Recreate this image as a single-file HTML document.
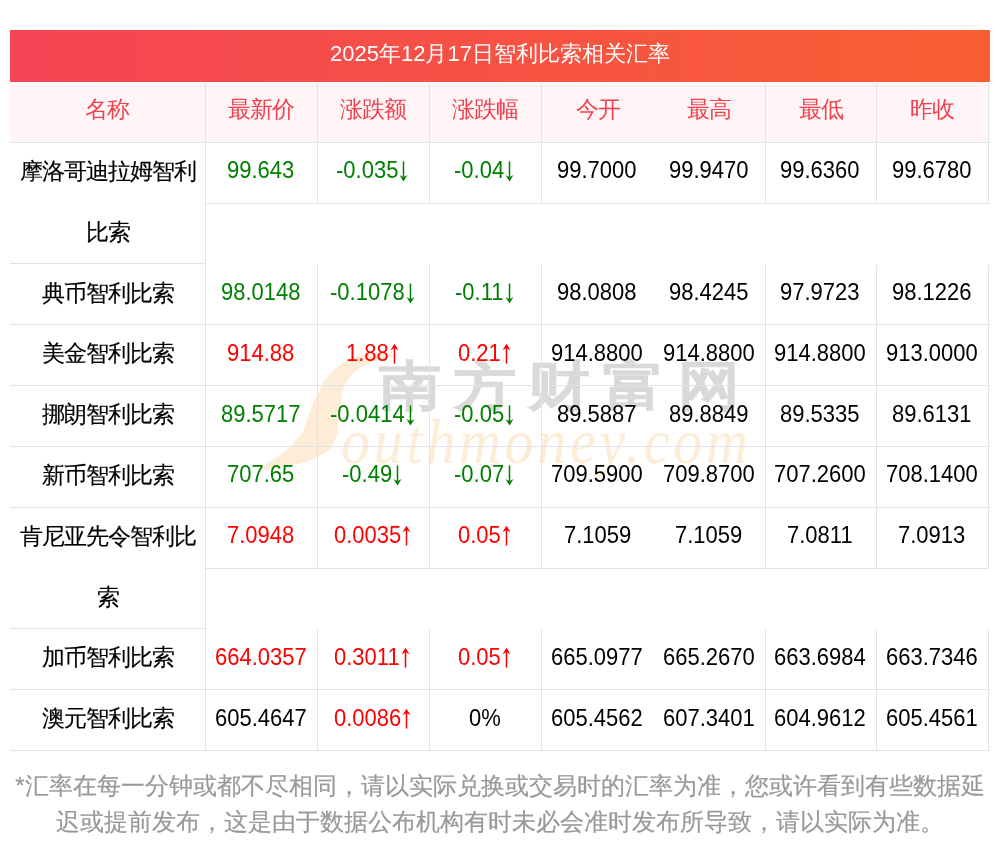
<!DOCTYPE html>
<html><head><meta charset="utf-8">
<style>
html,body{margin:0;padding:0;background:#fff;}
body{width:1000px;height:853px;position:relative;overflow:hidden;font-family:"Liberation Sans",sans-serif;}
.wm{position:absolute;left:0;top:0;width:1000px;height:853px;z-index:0;}
.wmcn{position:absolute;left:379px;top:354px;font-size:53px;line-height:64px;font-weight:bold;color:#d9d9d9;-webkit-text-stroke:0.6px #d9d9d9;letter-spacing:10.8px;white-space:nowrap;transform:scaleX(1.17);transform-origin:0 0;}
.wmen{position:absolute;left:341px;top:404px;font-family:"Liberation Serif",serif;font-style:italic;font-size:58px;line-height:70px;letter-spacing:3.7px;color:#fdecd6;white-space:nowrap;transform:scaleY(1.1);transform-origin:0 0;}
.title{position:absolute;left:10px;top:30px;width:980px;height:52px;background:linear-gradient(to right,#f44455,#f95f33);color:#fff;font-size:22px;line-height:47px;text-align:center;box-sizing:border-box;z-index:1;}
.c{position:absolute;z-index:1;box-sizing:border-box;border-right:1px solid #dfe3ec;border-bottom:1px solid #dfe3ec;text-align:center;font-size:22px;color:#000;display:flex;align-items:center;justify-content:center;white-space:nowrap;}
.c span{position:relative;top:-2.5px;left:-0.8px;display:inline-block;transform:scaleY(1.08);}
.c.nb{border-right:0;}
.c.hd{background:#fff5f7;color:#f0434f;}
.c.hd span{top:-3px;left:-1px;transform:none;font-size:23px;letter-spacing:-1px;text-indent:1px;}
.c.nm{display:block;}
.c.nm p{margin:0;font-size:23px;letter-spacing:-1px;-webkit-text-stroke:0.15px #000;height:60.8px;line-height:60.8px;position:relative;top:-2px;}
.ar{vertical-align:-4px;}
.ar.up{vertical-align:-2.5px;}
.g{color:#008000;}
.r{color:#ff0000;}
.k{color:#000;}
.foot{position:absolute;left:10px;top:768px;width:980px;font-size:24px;line-height:36px;color:#999;text-align:center;-webkit-text-stroke:0.2px #999;}
.c span,.c.nm p,.t,.wmcn,.wmen{will-change:transform;}
.t{display:inline-block;}
</style></head><body>
<div class="wm">
<svg width="1000" height="853" viewBox="0 0 1000 853" style="position:absolute;left:0;top:0"><path d="M258.0 469.5 C257.7 468.9 261.8 467.5 264.0 466.0 C266.2 464.5 268.2 462.7 271.2 460.6 C274.2 458.5 278.7 455.8 282.0 453.4 C285.3 451.0 288.3 448.9 291.0 446.2 C293.7 443.5 296.1 439.9 298.2 437.2 C300.3 434.5 301.9 433.6 303.6 430.0 C305.3 426.4 306.9 419.9 308.5 415.4 C310.1 410.9 311.4 406.4 313.0 403.0 C314.6 399.6 316.3 398.3 318.0 395.0 C319.7 391.7 321.0 386.5 323.0 383.0 C325.0 379.5 327.2 377.0 330.0 374.0 C332.8 371.0 336.7 367.5 340.0 365.0 C343.3 362.5 346.7 360.5 350.0 359.0 C353.3 357.5 356.7 356.8 360.0 356.0 C363.3 355.2 366.7 354.8 370.0 354.5 C373.3 354.2 376.7 353.9 380.0 354.0 C383.3 354.1 387.8 354.6 390.0 355.0 C392.2 355.4 393.8 356.0 393.0 356.5 C392.2 357.0 388.0 357.2 385.0 358.0 C382.0 358.8 378.3 359.8 375.0 361.0 C371.7 362.2 368.0 363.5 365.0 365.0 C362.0 366.5 359.5 368.0 357.0 370.0 C354.5 372.0 352.0 374.5 350.0 377.0 C348.0 379.5 346.3 382.0 345.0 385.0 C343.7 388.0 342.8 391.7 342.0 395.0 C341.2 398.3 340.9 401.7 340.5 405.0 C340.1 408.3 339.9 411.9 339.6 415.0 C339.3 418.1 338.8 421.0 338.5 423.5 C338.2 426.0 338.2 427.7 337.8 430.0 C337.4 432.3 337.2 434.2 336.0 437.2 C334.8 440.2 333.6 444.7 330.6 448.0 C327.6 451.3 323.1 454.4 318.0 457.0 C312.9 459.6 306.0 461.7 300.0 463.3 C294.0 464.9 287.7 465.9 282.0 466.9 C276.3 467.9 270.0 469.0 266.0 469.4 C262.0 469.8 258.3 470.1 258.0 469.5Z" fill="#fdecd6"/></svg>
<div class="wmcn">南方财富网</div>
<div class="wmen">outhmoney.com</div>
</div>
<div class="title"><span class="t">2025年12月17日智利比索相关汇率</span></div>
<div class="c hd" style="left:10px;top:83.00px;width:196px;height:60.00px;"><span>名称</span></div><div class="c hd" style="left:206px;top:83.00px;width:112px;height:60.00px;"><span>最新价</span></div><div class="c hd" style="left:318px;top:83.00px;width:112px;height:60.00px;"><span>涨跌额</span></div><div class="c hd" style="left:430px;top:83.00px;width:112px;height:60.00px;"><span>涨跌幅</span></div><div class="c nb hd" style="left:542px;top:83.00px;width:112px;height:60.00px;"><span>今开</span></div><div class="c hd" style="left:654px;top:83.00px;width:112px;height:60.00px;"><span>最高</span></div><div class="c hd" style="left:766px;top:83.00px;width:111px;height:60.00px;"><span>最低</span></div><div class="c hd" style="left:877px;top:83.00px;width:112px;height:60.00px;"><span>昨收</span></div><div class="c nm" style="left:10px;top:143.00px;width:196px;height:120.90px;"><p>摩洛哥迪拉姆智利</p><p>比索</p></div><div class="c g" style="left:206px;top:143.00px;width:112px;height:60.80px;"><span>99.643</span></div><div class="c g" style="left:318px;top:143.00px;width:112px;height:60.80px;"><span>-0.035<svg class="ar" width="11" height="19" viewBox="0 0 11 19"><path d="M4.75 0h1.5v14.5h-1.5z M1.5 12.6 L5.5 18.6 L9.5 12.6 L5.5 14.6 Z" fill="currentColor"/></svg></span></div><div class="c g" style="left:430px;top:143.00px;width:112px;height:60.80px;"><span>-0.04<svg class="ar" width="11" height="19" viewBox="0 0 11 19"><path d="M4.75 0h1.5v14.5h-1.5z M1.5 12.6 L5.5 18.6 L9.5 12.6 L5.5 14.6 Z" fill="currentColor"/></svg></span></div><div class="c nb k" style="left:542px;top:143.00px;width:112px;height:60.80px;"><span>99.7000</span></div><div class="c k" style="left:654px;top:143.00px;width:112px;height:60.80px;"><span>99.9470</span></div><div class="c k" style="left:766px;top:143.00px;width:111px;height:60.80px;"><span>99.6360</span></div><div class="c k" style="left:877px;top:143.00px;width:112px;height:60.80px;"><span>99.6780</span></div><div class="c nm" style="left:10px;top:264.60px;width:196px;height:60.80px;"><p>典币智利比索</p></div><div class="c g" style="left:206px;top:264.60px;width:112px;height:60.80px;"><span>98.0148</span></div><div class="c g" style="left:318px;top:264.60px;width:112px;height:60.80px;"><span>-0.1078<svg class="ar" width="11" height="19" viewBox="0 0 11 19"><path d="M4.75 0h1.5v14.5h-1.5z M1.5 12.6 L5.5 18.6 L9.5 12.6 L5.5 14.6 Z" fill="currentColor"/></svg></span></div><div class="c g" style="left:430px;top:264.60px;width:112px;height:60.80px;"><span>-0.11<svg class="ar" width="11" height="19" viewBox="0 0 11 19"><path d="M4.75 0h1.5v14.5h-1.5z M1.5 12.6 L5.5 18.6 L9.5 12.6 L5.5 14.6 Z" fill="currentColor"/></svg></span></div><div class="c nb k" style="left:542px;top:264.60px;width:112px;height:60.80px;"><span>98.0808</span></div><div class="c k" style="left:654px;top:264.60px;width:112px;height:60.80px;"><span>98.4245</span></div><div class="c k" style="left:766px;top:264.60px;width:111px;height:60.80px;"><span>97.9723</span></div><div class="c k" style="left:877px;top:264.60px;width:112px;height:60.80px;"><span>98.1226</span></div><div class="c nm" style="left:10px;top:325.40px;width:196px;height:60.80px;"><p>美金智利比索</p></div><div class="c r" style="left:206px;top:325.40px;width:112px;height:60.80px;"><span>914.88</span></div><div class="c r" style="left:318px;top:325.40px;width:112px;height:60.80px;"><span>1.88<svg class="ar up" width="11" height="19" viewBox="0 0 11 19"><path d="M4.75 4.1h1.5v14.9h-1.5z M1.5 6.4 L5.5 0.4 L9.5 6.4 L5.5 4.4 Z" fill="currentColor"/></svg></span></div><div class="c r" style="left:430px;top:325.40px;width:112px;height:60.80px;"><span>0.21<svg class="ar up" width="11" height="19" viewBox="0 0 11 19"><path d="M4.75 4.1h1.5v14.9h-1.5z M1.5 6.4 L5.5 0.4 L9.5 6.4 L5.5 4.4 Z" fill="currentColor"/></svg></span></div><div class="c nb k" style="left:542px;top:325.40px;width:112px;height:60.80px;"><span>914.8800</span></div><div class="c k" style="left:654px;top:325.40px;width:112px;height:60.80px;"><span>914.8800</span></div><div class="c k" style="left:766px;top:325.40px;width:111px;height:60.80px;"><span>914.8800</span></div><div class="c k" style="left:877px;top:325.40px;width:112px;height:60.80px;"><span>913.0000</span></div><div class="c nm" style="left:10px;top:386.20px;width:196px;height:60.80px;"><p>挪朗智利比索</p></div><div class="c g" style="left:206px;top:386.20px;width:112px;height:60.80px;"><span>89.5717</span></div><div class="c g" style="left:318px;top:386.20px;width:112px;height:60.80px;"><span>-0.0414<svg class="ar" width="11" height="19" viewBox="0 0 11 19"><path d="M4.75 0h1.5v14.5h-1.5z M1.5 12.6 L5.5 18.6 L9.5 12.6 L5.5 14.6 Z" fill="currentColor"/></svg></span></div><div class="c g" style="left:430px;top:386.20px;width:112px;height:60.80px;"><span>-0.05<svg class="ar" width="11" height="19" viewBox="0 0 11 19"><path d="M4.75 0h1.5v14.5h-1.5z M1.5 12.6 L5.5 18.6 L9.5 12.6 L5.5 14.6 Z" fill="currentColor"/></svg></span></div><div class="c nb k" style="left:542px;top:386.20px;width:112px;height:60.80px;"><span>89.5887</span></div><div class="c k" style="left:654px;top:386.20px;width:112px;height:60.80px;"><span>89.8849</span></div><div class="c k" style="left:766px;top:386.20px;width:111px;height:60.80px;"><span>89.5335</span></div><div class="c k" style="left:877px;top:386.20px;width:112px;height:60.80px;"><span>89.6131</span></div><div class="c nm" style="left:10px;top:447.00px;width:196px;height:60.80px;"><p>新币智利比索</p></div><div class="c g" style="left:206px;top:447.00px;width:112px;height:60.80px;"><span>707.65</span></div><div class="c g" style="left:318px;top:447.00px;width:112px;height:60.80px;"><span>-0.49<svg class="ar" width="11" height="19" viewBox="0 0 11 19"><path d="M4.75 0h1.5v14.5h-1.5z M1.5 12.6 L5.5 18.6 L9.5 12.6 L5.5 14.6 Z" fill="currentColor"/></svg></span></div><div class="c g" style="left:430px;top:447.00px;width:112px;height:60.80px;"><span>-0.07<svg class="ar" width="11" height="19" viewBox="0 0 11 19"><path d="M4.75 0h1.5v14.5h-1.5z M1.5 12.6 L5.5 18.6 L9.5 12.6 L5.5 14.6 Z" fill="currentColor"/></svg></span></div><div class="c nb k" style="left:542px;top:447.00px;width:112px;height:60.80px;"><span>709.5900</span></div><div class="c k" style="left:654px;top:447.00px;width:112px;height:60.80px;"><span>709.8700</span></div><div class="c k" style="left:766px;top:447.00px;width:111px;height:60.80px;"><span>707.2600</span></div><div class="c k" style="left:877px;top:447.00px;width:112px;height:60.80px;"><span>708.1400</span></div><div class="c nm" style="left:10px;top:507.80px;width:196px;height:121.60px;"><p>肯尼亚先令智利比</p><p>索</p></div><div class="c r" style="left:206px;top:507.80px;width:112px;height:60.80px;"><span>7.0948</span></div><div class="c r" style="left:318px;top:507.80px;width:112px;height:60.80px;"><span>0.0035<svg class="ar up" width="11" height="19" viewBox="0 0 11 19"><path d="M4.75 4.1h1.5v14.9h-1.5z M1.5 6.4 L5.5 0.4 L9.5 6.4 L5.5 4.4 Z" fill="currentColor"/></svg></span></div><div class="c r" style="left:430px;top:507.80px;width:112px;height:60.80px;"><span>0.05<svg class="ar up" width="11" height="19" viewBox="0 0 11 19"><path d="M4.75 4.1h1.5v14.9h-1.5z M1.5 6.4 L5.5 0.4 L9.5 6.4 L5.5 4.4 Z" fill="currentColor"/></svg></span></div><div class="c nb k" style="left:542px;top:507.80px;width:112px;height:60.80px;"><span>7.1059</span></div><div class="c k" style="left:654px;top:507.80px;width:112px;height:60.80px;"><span>7.1059</span></div><div class="c k" style="left:766px;top:507.80px;width:111px;height:60.80px;"><span>7.0811</span></div><div class="c k" style="left:877px;top:507.80px;width:112px;height:60.80px;"><span>7.0913</span></div><div class="c nm" style="left:10px;top:629.40px;width:196px;height:60.80px;"><p>加币智利比索</p></div><div class="c r" style="left:206px;top:629.40px;width:112px;height:60.80px;"><span>664.0357</span></div><div class="c r" style="left:318px;top:629.40px;width:112px;height:60.80px;"><span>0.3011<svg class="ar up" width="11" height="19" viewBox="0 0 11 19"><path d="M4.75 4.1h1.5v14.9h-1.5z M1.5 6.4 L5.5 0.4 L9.5 6.4 L5.5 4.4 Z" fill="currentColor"/></svg></span></div><div class="c r" style="left:430px;top:629.40px;width:112px;height:60.80px;"><span>0.05<svg class="ar up" width="11" height="19" viewBox="0 0 11 19"><path d="M4.75 4.1h1.5v14.9h-1.5z M1.5 6.4 L5.5 0.4 L9.5 6.4 L5.5 4.4 Z" fill="currentColor"/></svg></span></div><div class="c nb k" style="left:542px;top:629.40px;width:112px;height:60.80px;"><span>665.0977</span></div><div class="c k" style="left:654px;top:629.40px;width:112px;height:60.80px;"><span>665.2670</span></div><div class="c k" style="left:766px;top:629.40px;width:111px;height:60.80px;"><span>663.6984</span></div><div class="c k" style="left:877px;top:629.40px;width:112px;height:60.80px;"><span>663.7346</span></div><div class="c nm" style="left:10px;top:690.20px;width:196px;height:60.80px;"><p>澳元智利比索</p></div><div class="c k" style="left:206px;top:690.20px;width:112px;height:60.80px;"><span>605.4647</span></div><div class="c r" style="left:318px;top:690.20px;width:112px;height:60.80px;"><span>0.0086<svg class="ar up" width="11" height="19" viewBox="0 0 11 19"><path d="M4.75 4.1h1.5v14.9h-1.5z M1.5 6.4 L5.5 0.4 L9.5 6.4 L5.5 4.4 Z" fill="currentColor"/></svg></span></div><div class="c k" style="left:430px;top:690.20px;width:112px;height:60.80px;"><span>0%</span></div><div class="c nb k" style="left:542px;top:690.20px;width:112px;height:60.80px;"><span>605.4562</span></div><div class="c k" style="left:654px;top:690.20px;width:112px;height:60.80px;"><span>607.3401</span></div><div class="c k" style="left:766px;top:690.20px;width:111px;height:60.80px;"><span>604.9612</span></div><div class="c k" style="left:877px;top:690.20px;width:112px;height:60.80px;"><span>605.4561</span></div>
<div class="foot"><span class="t">*汇率在每一分钟或都不尽相同，请以实际兑换或交易时的汇率为准，您或许看到有些数据延迟或提前发布，这是由于数据公布机构有时未必会准时发布所导致，请以实际为准。</span></div>
</body></html>
